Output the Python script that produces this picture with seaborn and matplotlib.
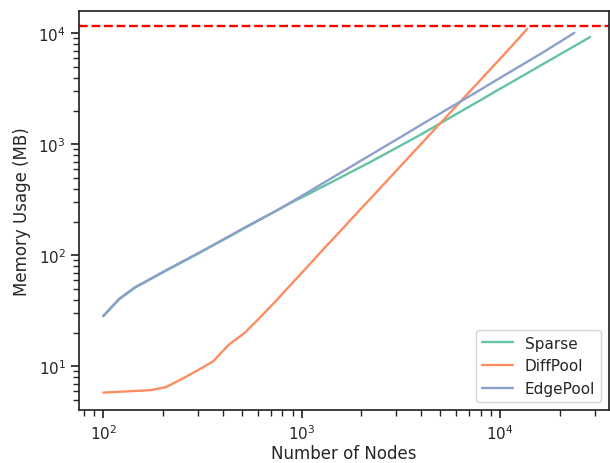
"""
Memory usage vs graph size for the pooling methods (log-log).
"""

import matplotlib
matplotlib.use('Agg')
import matplotlib.pyplot as plt
import seaborn as sns
import pandas as pd

# Number of nodes in the test graphs
nodes = [100, 120, 144, 173, 207, 249, 299, 358, 430, 516, 619, 743, 892,
         1070, 1284, 1541, 1849, 2219, 2662, 3195, 3834, 4601, 5521, 6625,
         7950, 9540, 11448, 13737, 16484, 19781, 23738, 28485]

# Memory usage in MB
sparse_mem = [28.3, 40, 51, 61, 72.6, 86.5, 103, 123, 147, 176, 210, 251, 300,
              353, 418, 494, 585, 693, 826, 986, 1178, 1419, 1714, 2065,
              2489, 3013, 3631, 4375, 5280, 6368, 7678, 9268]
diffpool_mem = [5.8, 5.9, 6.0, 6.1, 6.5, 7.7, 9.2, 11.1, 15.7, 20.0, 27.7, 39,
                55.6, 79, 113, 160, 228, 323, 459, 653, 927, 1318, 1871, 2661,
                3776, 5370, 7638, 11000]
edgepool_mem = [28.5, 40.5, 51.5, 61.5, 73.5, 87.5, 104, 124, 148.5, 178, 212,
                252, 304, 368, 448, 543, 659, 800, 970, 1177, 1432, 1738, 2108,
                2553, 3097, 3767, 4571, 5546, 6730, 8250, 10100]

gpu_limit = 11600  # MB

methods = ['Sparse', 'DiffPool', 'EdgePool']
series = [sparse_mem, diffpool_mem, edgepool_mem]

rows = []
for name, mem in zip(methods, series):
    for n, m in zip(nodes, mem):
        rows.append({'nodes': n, 'memory': m, 'method': name})
df = pd.DataFrame(rows)

sns.set_theme(style='ticks', context='notebook')

fig = plt.figure(figsize=(6.1, 4.64), dpi=100)
ax = fig.add_axes([0.1295, 0.1149, 0.8689, 0.8586])

sns.lineplot(data=df, x='nodes', y='memory', hue='method', hue_order=methods,
             palette='Set2', linewidth=1.7, ax=ax)
ax.axhline(gpu_limit, color='red', linestyle='--', linewidth=1.7)

ax.set_xscale('log')
ax.set_yscale('log')
ax.set_xlim(75.4, 35500)
ax.set_ylim(4.07, 15800)

ax.set_xlabel('Number of Nodes', labelpad=2)
ax.set_ylabel('Memory Usage (MB)', labelpad=5)
ax.legend(loc='lower right')

fig.savefig('out.png', dpi=100)
